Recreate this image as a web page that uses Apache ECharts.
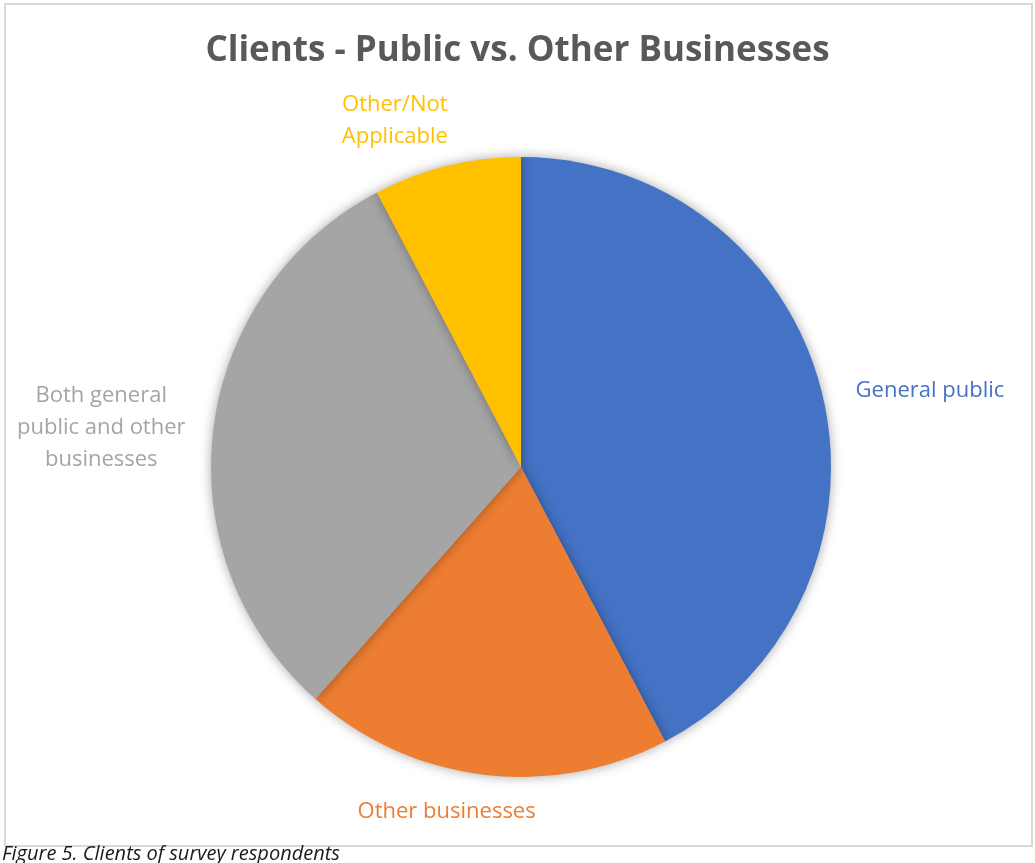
<!DOCTYPE html>
<html>
<head>
<meta charset="utf-8">
<style>
  html, body { margin: 0; padding: 0; background: #fff; overflow: hidden; }
  #chart { width: 1035px; height: 863px; }
</style>
<script src="https://cdn.jsdelivr.net/npm/echarts@6/dist/echarts.min.js"></script>
</head>
<body>
<div id="chart"></div>
<script>
// Survey respondents by client type (counts)
const categories = ['General public', 'Other businesses', 'Both general\npublic and other\nbusinesses', 'Other/Not\nApplicable'];
const counts = [11, 5, 8, 2];
const colors = ['#4472C4', '#ED7D31', '#A5A5A5', '#FFC000'];

const chart = echarts.init(document.getElementById('chart'));
const font = '"Open Sans", "Noto Sans", sans-serif';

const CX = 521, CY = 467, R = 310;

// Label centre = point on the rim at the slice's mid angle, nudged outward
const labelNudge = [[108, -2], [-37, 37], [-112, -2], [-52, -45]];
const total = counts.reduce((a, b) => a + b, 0);
const midAngles = [];
let acc = 0;
counts.forEach(v => { midAngles.push((acc + v / 2) / total * 2 * Math.PI); acc += v; });

chart.setOption({
  backgroundColor: '#ffffff',
  animation: false,
  title: {
    text: 'Clients - Public vs. Other Businesses',
    left: 'center',
    top: 29,
    textStyle: { fontFamily: font, fontSize: 35, fontWeight: 'bold', color: '#595959' }
  },
  graphic: [
    {
      type: 'rect',
      shape: { x: 5, y: 4, width: 1027, height: 842 },
      style: { fill: 'none', stroke: '#d9d9d9', lineWidth: 2 },
      silent: true
    },
    {
      type: 'text',
      left: 2,
      top: 844,
      style: {
        text: 'Figure 5. Clients of survey respondents',
        font: 'italic 20px ' + font,
        fill: '#1a1a1a'
      }
    }
  ],
  series: [{
    type: 'pie',
    center: [CX, CY],
    radius: R,
    startAngle: 90,
    clockwise: true,
    data: categories.map((name, i) => ({
      name: name,
      value: counts[i],
      itemStyle: { color: colors[i] },
      label: { color: colors[i] }
    })),
    itemStyle: {
      shadowBlur: 12,
      shadowColor: 'rgba(0,0,0,0.35)'
    },
    label: {
      show: true,
      position: 'outside',
      alignTo: 'none',
      formatter: '{b}',
      fontFamily: font,
      fontSize: 22,
      lineHeight: 32,
      width: 240,
      overflow: 'none',
      align: 'center'
    },
    labelLine: { show: false },
    labelLayout: function (params) {
      const i = params.dataIndex;
      const a = midAngles[i];
      return {
        x: CX + R * Math.sin(a) + labelNudge[i][0],
        y: CY - R * Math.cos(a) + labelNudge[i][1],
        align: 'center',
        verticalAlign: 'middle'
      };
    },
    emphasis: { disabled: true }
  }]
});
</script>
</body>
</html>
